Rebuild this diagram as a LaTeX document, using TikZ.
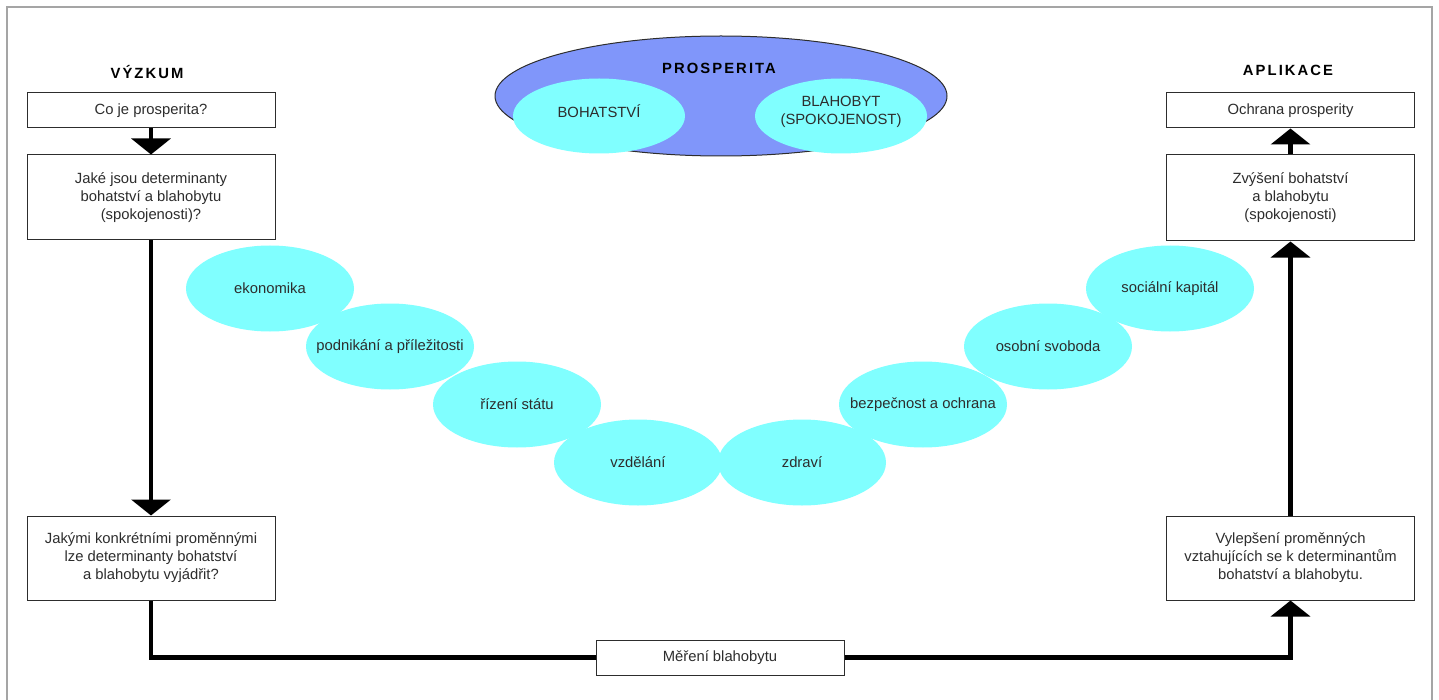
\documentclass[tikz,border=0pt]{standalone}
\usepackage{fontspec}
\setmainfont{Liberation Sans}
\usetikzlibrary{shapes.geometric,arrows.meta}
\definecolor{factorfill}{RGB}{128,255,255}
\definecolor{prosperityfill}{RGB}{128,150,250}
\definecolor{framegray}{RGB}{165,165,165}
\definecolor{ink}{RGB}{45,45,45}
\tikzstyle{box}=[draw=ink, line width=.5pt, fill=white, align=center, minimum width=124pt, inner sep=2pt, text=ink, font=\fontsize{7.4}{9}\selectfont]
\tikzstyle{factor}=[ellipse, fill=factorfill, minimum width=84pt, minimum height=43pt, inner sep=0pt]
\tikzstyle{heading}=[text=black, font=\fontsize{7.4}{9}\selectfont\bfseries\addfontfeature{LetterSpace=14}]
\tikzstyle{flow}=[line width=2.1pt, -{Triangle[width=19.5pt,length=8pt]}]
\tikzset{every label/.append style={text=ink, align=center, font=\fontsize{7.4}{9}\selectfont}}

\begin{document}
\begin{tikzpicture}[x=0.5pt,y=-0.5pt]
  \useasboundingbox (0,0) rectangle (1439,700);
  \draw[framegray, line width=1pt] (7,7) rectangle (1432,720);

  %% Prosperity
  \draw (721,96) node[ellipse, draw=ink, line width=.5pt, fill=prosperityfill, minimum width=226pt, minimum height=60pt, inner sep=0pt] (prosp) {};
  \draw (599,116) node[ellipse, fill=factorfill, minimum width=86pt, minimum height=37.5pt, inner sep=0pt, label={[yshift=2.5pt]center:BOHATSTVÍ}] (wealth) {};
  \draw (841,116) node[ellipse, fill=factorfill, minimum width=86pt, minimum height=37.5pt, inner sep=0pt, label={[yshift=2pt]center:{BLAHOBYT\\(SPOKOJENOST)}}] (wellbeing) {};
  \draw (719,68) node[heading] (prosptitle) {PROSPERITA};

  %% Research
  \draw (147,72) node[heading] (research) {VÝZKUM};
  \draw (151,110.5) node[box, minimum height=17.5pt] (qprosp) {Co je prosperita?};
  \draw (151,197.5) node[box, minimum height=42.5pt] (qdeterm) {Jaké jsou determinanty\\bohatství a blahobytu\\(spokojenosti)?};
  \draw (151,558) node[box, minimum height=42pt] (qvars) {Jakými konkrétními proměnnými\\lze determinanty bohatství\\a blahobytu vyjádřit?};

  %% Application
  \draw (1288,70) node[heading] (application) {APLIKACE};
  \draw (1290.5,110.5) node[box, minimum height=17.5pt] (protect) {Ochrana prosperity};
  \draw (1290.5,198) node[box, minimum height=43pt] (raise) {Zvýšení bohatství\\a blahobytu\\(spokojenosti)};
  \draw (1290.5,558) node[box, minimum height=42pt] (improve) {Vylepšení proměnných\\vztahujících se k determinantům\\bohatství a blahobytu.};

  \draw (720,657.5) node[box, minimum height=17.5pt] (measure) {Měření blahobytu};

  %% Determinants
  \draw (270,288.5) node[factor, label=center:ekonomika] (economy) {};
  \draw (390,346.5) node[factor, label=center:podnikání a příležitosti] (business) {};
  \draw (517,404.5) node[factor, label=center:řízení státu] (governance) {};
  \draw (638,462.5) node[factor, label=center:vzdělání] (education) {};
  \draw (802,462.5) node[factor, label=center:zdraví] (health) {};
  \draw (923,404.5) node[factor, label=center:bezpečnost a ochrana] (safety) {};
  \draw (1048,346.5) node[factor, label=center:osobní svoboda] (freedom) {};
  \draw (1170,288.5) node[factor, label=center:sociální kapitál] (social) {};

  %% Flow
  \draw[flow] (qprosp) -- (qdeterm);
  \draw[flow] (qdeterm) -- (qvars);
  \draw[line width=2.1pt] (qvars.south) |- (measure.west);
  \draw[flow] (measure.east) -| (improve.south);
  \draw[flow] (improve) -- (raise);
  \draw[flow] (raise) -- (protect);
\end{tikzpicture}
\end{document}
